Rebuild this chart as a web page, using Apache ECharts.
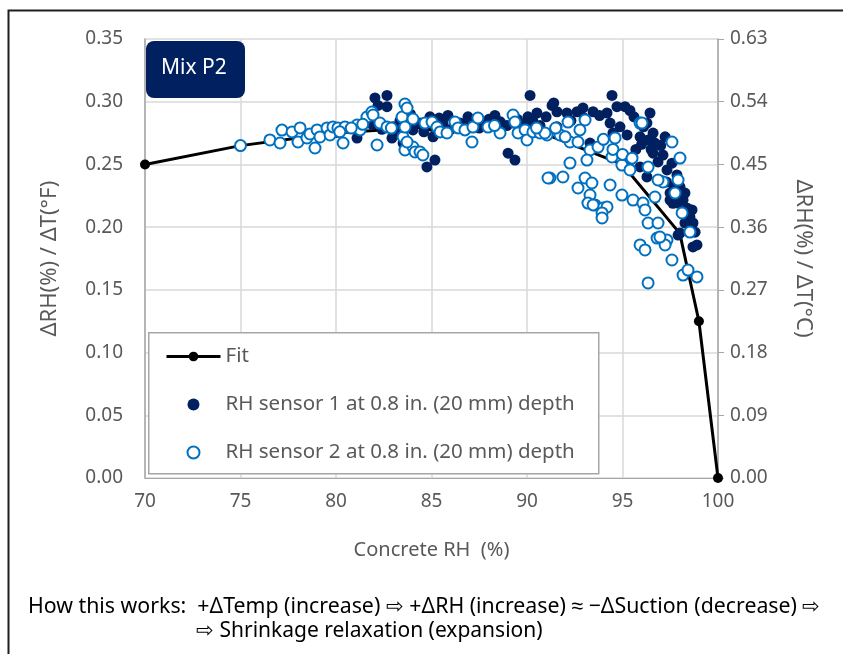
<!DOCTYPE html>
<html>
<head>
<meta charset="utf-8">
<script src="https://cdn.jsdelivr.net/npm/echarts@6/dist/echarts.min.js"></script>
<style>
html,body{margin:0;padding:0;background:#fff;}
#chart{width:843px;height:654px;}
</style>
</head>
<body>
<div id="chart"></div>
<script>
// ---- data ----
const xTicks = [70, 75, 80, 85, 90, 95, 100];
const leftTicks = [0, 0.05, 0.10, 0.15, 0.20, 0.25, 0.30, 0.35];
const rightTicks = [0, 0.09, 0.18, 0.27, 0.36, 0.45, 0.54, 0.63];

const fitRH = [70, 75, 80, 85, 90, 95, 98, 99, 100];
const fitVal = [0.25, 0.265, 0.275, 0.28, 0.28, 0.25, 0.195, 0.125, 0];

const sensor1 = [
[81.10,0.271],[82.04,0.303],[82.67,0.305],[82.67,0.296],[82.93,0.271],[83.35,0.285],[83.51,0.267],[83.72,0.262],
[81.9,0.282],[82.4,0.278],[83.0,0.28],[84.03,0.2775],[84.40,0.283],[84.76,0.248],[85.18,0.2535],[84.92,0.288],
[85.08,0.272],[85.60,0.283],[85.86,0.289],[86.49,0.283],[86.91,0.288],[87.70,0.283],[88.32,0.289],[88.95,0.281],
[89.01,0.259],[89.37,0.2535],[90.05,0.288],[90.16,0.305],[90.52,0.291],[90.68,0.281],[91.31,0.297],[91.4,0.299],
[91.57,0.292],[91.57,0.280],[92.09,0.291],[92.62,0.292],[92.93,0.295],[93.46,0.292],[93.30,0.267],[93.72,0.263],
[94.19,0.291],[94.35,0.283],[94.45,0.305],[94.50,0.275],[94.71,0.296],[94.87,0.280],[95.13,0.296],[95.24,0.2735],
[95.39,0.293],[95.39,0.2535],[95.92,0.272],[95.92,0.248],[96.28,0.240],[96.44,0.291],[96.28,0.283],[96.60,0.275],
[96.34,0.2695],[96.70,0.267],[97.23,0.272],[96.60,0.259],[97.12,0.2575],[96.86,0.252],[97.59,0.251],[97.33,0.2456],
[96.96,0.2376],[97.85,0.2416],[98.01,0.232],[97.49,0.2272],[98.17,0.2272],[97.64,0.219],[98.17,0.2216],[98.64,0.2137],
[98.53,0.2081],[98.69,0.2033],[98.01,0.1953],[98.69,0.1842],[98.90,0.1858],[97.49,0.2216],[97.91,0.2192],[98.27,0.2272],
[98.27,0.2033],[97.91,0.1937],[86.0,0.278],[87.0,0.285],[87.5,0.279],[88.0,0.286],[88.6,0.284],[89.5,0.286],
[89.8,0.282],[90.3,0.285],[91.0,0.288],[92.3,0.285],[93.0,0.287],[93.8,0.289],[95.6,0.288],[96.1,0.28],
[95.7,0.262],[96.0,0.266],[96.5,0.262],[97.0,0.265],[97.3,0.236],[97.7,0.232],[98.4,0.215],[98.8,0.196],
[83.9,0.29],[84.6,0.276],[85.4,0.287],[82.2,0.297],[83.2,0.276]
];

const sensor2 = [
[75.0,0.265],[76.54,0.2695],[77.17,0.2774],[77.07,0.2671],[77.70,0.2759],[78.12,0.2791],[78.01,0.2679],[78.48,0.2711],
[78.64,0.2743],[78.90,0.2631],[79.01,0.2775],[79.16,0.2719],[79.53,0.2791],[79.69,0.2735],[79.84,0.2799],[80.10,0.2791],
[80.37,0.2671],[80.47,0.2799],[81.10,0.2814],[81.26,0.2775],[81.62,0.2878],[81.88,0.2918],[81.94,0.2894],[82.15,0.2655],
[82.30,0.2830],[82.67,0.2799],[83.46,0.2878],[83.51,0.2719],[83.61,0.2615],[84.03,0.2639],[84.14,0.2599],[83.61,0.2982],
[83.72,0.2950],[84.03,0.2862],[83.61,0.2798],[83.72,0.2679],[84.40,0.2599],[84.55,0.2575],[84.66,0.2830],[85.03,0.2838],
[85.29,0.2798],[85.45,0.2759],[85.81,0.2751],[86.23,0.2838],[86.39,0.2791],[86.75,0.2775],[87.12,0.2679],[87.17,0.2798],
[87.43,0.2870],[87.96,0.2798],[88.59,0.2751],[89.27,0.2894],[89.37,0.2838],[89.53,0.2751],[89.90,0.2775],[90.00,0.2695],
[90.31,0.2759],[90.68,0.2751],[91.05,0.2735],[91.20,0.2392],[92.15,0.2838],[93.04,0.2854],[92.77,0.2775],[95.92,0.2830],
[90.94,0.2751],[91.73,0.2735],[92.25,0.2679],[92.67,0.2679],[94.61,0.2711],[93.30,0.2615],[93.72,0.2639],[92.25,0.2511],
[93.14,0.2535],[94.45,0.2559],[94.97,0.2495],[95.39,0.2456],[91.10,0.2392],[91.88,0.2400],[93.04,0.2392],[93.40,0.2352],
[92.67,0.2312],[94.35,0.2336],[94.97,0.2256],[93.30,0.2256],[93.19,0.2192],[93.56,0.2177],[93.98,0.2153],[94.19,0.2161],
[93.93,0.2113],[95.55,0.2216],[96.07,0.2192],[93.46,0.2177],[93.93,0.2073],[96.18,0.2137],[96.34,0.2033],[96.86,0.2033],
[95.92,0.1858],[96.18,0.1818],[96.81,0.1913],[97.33,0.1897],[97.23,0.1858],[97.59,0.1738],[96.34,0.1555],[98.17,0.1618],
[98.43,0.1658],[98.90,0.1603],[96.70,0.2240],[97.75,0.2272],[98.53,0.1961],[98.12,0.2113],[97.12,0.2360],[96.02,0.2830],
[97.59,0.2679],[98.01,0.2551],[96.34,0.2479],[96.86,0.2376],[97.91,0.2376],[96.96,0.1921],[80.8,0.279],[80.2,0.276],
[81.4,0.282],[82.9,0.279],[88.3,0.281],[90.5,0.279],[91.5,0.279],[92.0,0.272],[94.0,0.27],[94.5,0.262],[95.0,0.258],[95.5,0.255]
];

const seriesNames = ['Fit', 'RH sensor 1 at 0.8 in. (20 mm) depth', 'RH sensor 2 at 0.8 in. (20 mm) depth'];
const mixLabel = 'Mix P2';
const xName = 'Concrete RH  (%)';
const yLeftName = 'ΔRH(%) / ΔT(°F)';
const yRightName = 'ΔRH(%) / ΔT(°C)';
const noteLine1 = 'How this works:  +ΔTemp (increase) ⇨ +ΔRH (increase) ≈ −ΔSuction (decrease) ⇨';
const noteLine2 = '⇨ Shrinkage relaxation (expansion)';

// ---- chart ----
const FONT = '"Noto Sans", sans-serif';
const GRAY = '#595959';
const chart = echarts.init(document.getElementById('chart'), null, {renderer: 'canvas'});

const axisLabelStyle = {color: GRAY, fontSize: 19, fontFamily: FONT};

chart.setOption({
  animation: false,
  backgroundColor: '#ffffff',
  grid: {left: 145, right: 125, top: 39, bottom: 176, containLabel: false},
  xAxis: {
    type: 'value', min: xTicks[0], max: xTicks[xTicks.length - 1], interval: 5,
    name: xName, nameLocation: 'middle', nameGap: 62,
    nameTextStyle: {color: GRAY, fontSize: 20, fontFamily: FONT},
    axisLine: {show: true, lineStyle: {color: '#a6a6a6', width: 1}},
    axisTick: {show: false},
    axisLabel: Object.assign({margin: 14, formatter: v => String(v)}, axisLabelStyle),
    splitLine: {show: true, lineStyle: {color: '#d9d9d9', width: 1.5}}
  },
  yAxis: [{
    type: 'value', min: leftTicks[0], max: leftTicks[leftTicks.length - 1], interval: 0.05,
    name: yLeftName, nameLocation: 'middle', nameGap: 84, nameRotate: 90,
    nameTextStyle: {color: GRAY, fontSize: 22, fontFamily: FONT},
    axisLine: {show: true, lineStyle: {color: '#a6a6a6', width: 1.5}},
    axisTick: {show: false},
    axisLabel: Object.assign({margin: 22, formatter: v => v.toFixed(2)}, axisLabelStyle),
    splitLine: {show: true, lineStyle: {color: '#d9d9d9', width: 1.5}}
  }, {
    type: 'value', position: 'right', min: rightTicks[0], max: rightTicks[rightTicks.length - 1], interval: 0.09,
    name: yRightName, nameLocation: 'middle', nameGap: 74, nameRotate: -90,
    nameTextStyle: {color: GRAY, fontSize: 22, fontFamily: FONT},
    axisLine: {show: true, lineStyle: {color: '#a6a6a6', width: 1.5}},
    axisTick: {show: true, inside: false, length: 6, lineStyle: {color: '#a6a6a6'}},
    axisLabel: Object.assign({margin: 12, formatter: v => v.toFixed(2)}, axisLabelStyle),
    splitLine: {show: false}
  }],
  legend: {
    orient: 'vertical', left: 160, top: 341, itemGap: 27,
    itemWidth: 54, itemHeight: 12,
    textStyle: {color: GRAY, fontSize: 20.5, fontFamily: FONT},
    data: [
      {name: seriesNames[0], lineStyle: {width: 3, color: '#000000'}},
      {name: seriesNames[1]},
      {name: seriesNames[2]}
    ],
    z: 10
  },
  graphic: [
    {type: 'rect', left: 6, top: 8, shape: {width: 860, height: 680}, style: {fill: 'none', stroke: '#1f1f1f', lineWidth: 2}, z: 1, silent: true},
    {type: 'rect', left: 148, top: 332, shape: {width: 450, height: 141}, style: {fill: '#ffffff', stroke: '#a6a6a6', lineWidth: 1.5}, z: 5},
    {type: 'rect', left: 146, top: 41, shape: {width: 99, height: 57, r: 8}, style: {fill: '#002060'}, z: 5},
    {type: 'text', left: 161, top: 58, style: {text: mixLabel, fill: '#ffffff', font: '21px ' + FONT}, z: 6},
    {type: 'text', left: 28, top: 596, style: {text: noteLine1, fill: '#000000', font: '21.3px ' + FONT}, z: 6},
    {type: 'text', left: 196, top: 621, style: {text: noteLine2, fill: '#000000', font: '21px ' + FONT}, z: 6}
  ],
  series: [
    {
      name: seriesNames[0], type: 'line', yAxisIndex: 0,
      data: fitRH.map((x, i) => [x, fitVal[i]]),
      symbol: 'circle', symbolSize: 10, showSymbol: true,
      lineStyle: {color: '#000000', width: 3},
      itemStyle: {color: '#000000'}, z: 2
    },
    {
      name: seriesNames[1], type: 'scatter', yAxisIndex: 0,
      data: sensor1, symbol: 'circle', symbolSize: 11,
      itemStyle: {color: '#002060', opacity: 1}, z: 3
    },
    {
      name: seriesNames[2], type: 'scatter', yAxisIndex: 0,
      data: sensor2, symbol: 'emptyCircle', symbolSize: 11,
      itemStyle: {color: '#0070C0', borderColor: '#0070C0', borderWidth: 2, opacity: 1}, z: 4
    }
  ]
});
</script>
</body>
</html>
